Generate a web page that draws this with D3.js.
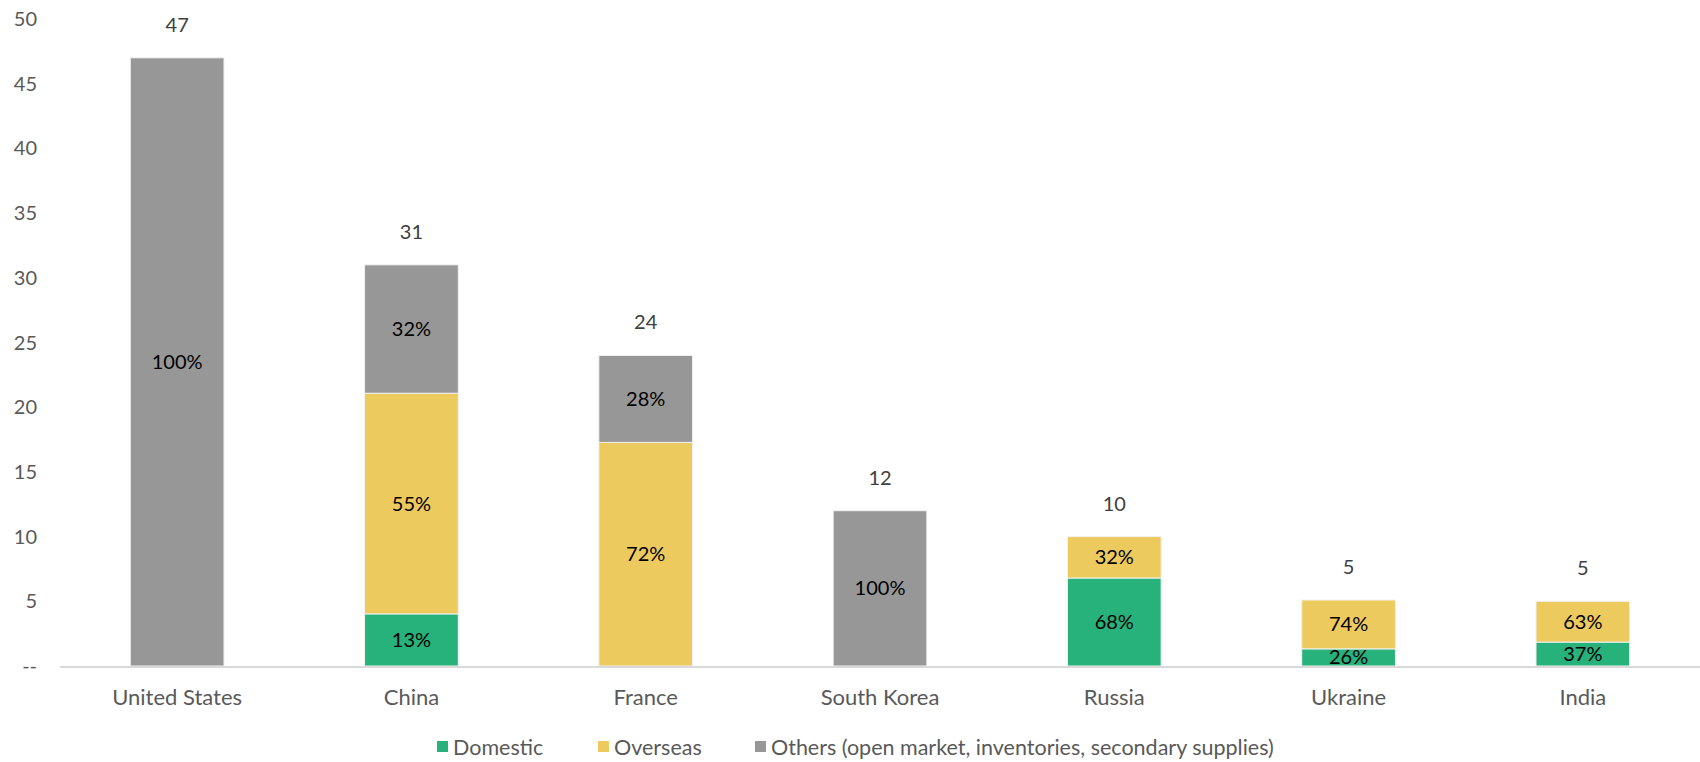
<!DOCTYPE html>
<html>
<head>
<meta charset="utf-8">
<script src="https://cdn.jsdelivr.net/npm/d3@7"></script>
<style>
  body { margin: 0; background: #fff; }
  svg { font-family: Lato, "Open Sans", sans-serif; }
</style>
</head>
<body>
<svg id="chart" width="1700" height="762"></svg>
<script>
// countries and totals
var countries = ["United States", "China", "France", "South Korea", "Russia", "Ukraine", "India"];
var totals = [47, 31, 24, 12, 10, 5.1, 5];
// share of each total, in percent
var domestic = [0, 13, 0, 0, 68, 26, 37];
var overseas = [0, 55, 72, 0, 32, 74, 63];
var others = [100, 32, 28, 100, 0, 0, 0];
var seriesNames = ["Domestic", "Overseas", "Others (open market, inventories, secondary supplies)"];
var yTicks = [0, 5, 10, 15, 20, 25, 30, 35, 40, 45, 50];

var colors = ["#27b17b", "#edca5e", "#979798"];

var svg = d3.select("#chart");

// set the dimensions and margins of the graph
var margin = {top: 19, right: 0, bottom: 96, left: 60},
    width = 1700 - margin.left - margin.right,
    height = 762 - margin.top - margin.bottom;

var rows = countries.map(function (c, i) {
  return {country: c, total: totals[i],
          s0: totals[i] * domestic[i] / 100,
          s1: totals[i] * overseas[i] / 100,
          s2: totals[i] * others[i] / 100,
          p: [domestic[i], overseas[i], others[i]]};
});

var x = d3.scaleBand()
  .domain(countries)
  .range([margin.left, margin.left + width])
  .paddingInner(0.6)
  .paddingOuter(0.3);

var y = d3.scaleLinear()
  .domain([0, 50])
  .range([margin.top + height, margin.top]);

var stack = d3.stack().keys(["s0", "s1", "s2"]);
var layers = stack(rows);

// y labels (no axis line)
svg.append("g")
  .selectAll("text")
  .data(yTicks)
  .enter()
  .append("text")
    .attr("x", 37)
    .attr("y", function (d) { return y(d); })
    .attr("dy", "0.35em")
    .attr("text-anchor", "end")
    .style("font-size", "20px")
    .style("fill", "#595959")
    .text(function (d) { return d === 0 ? "--" : d; });

// bars
layers.forEach(function (layer, k) {
  svg.append("g")
    .selectAll("rect")
    .data(layer.filter(function (d) { return d[1] - d[0] > 0; }))
    .enter()
    .append("rect")
      .attr("x", function (d) { return x(d.data.country); })
      .attr("y", function (d) { return y(d[1]); })
      .attr("width", x.bandwidth())
      .attr("height", function (d) { return y(d[0]) - y(d[1]); })
      .style("fill", colors[k])
      .style("stroke", "#f2f2f2")
      .style("stroke-width", 1);

  // percent labels in the middle of each segment
  svg.append("g")
    .selectAll("text")
    .data(layer.filter(function (d) { return d[1] - d[0] > 0; }))
    .enter()
    .append("text")
      .attr("x", function (d) { return x(d.data.country) + x.bandwidth() / 2; })
      .attr("y", function (d) { return (y(d[0]) + y(d[1])) / 2; })
      .attr("dy", "0.35em")
      .attr("text-anchor", "middle")
      .style("font-size", "20px")
      .style("fill", "#000")
      .text(function (d) { return d.data.p[k] + "%"; });
});

// x axis line
svg.append("line")
  .attr("x1", margin.left)
  .attr("x2", margin.left + width)
  .attr("y1", y(0) + 1)
  .attr("y2", y(0) + 1)
  .style("stroke", "#d9d9d9")
  .style("stroke-width", 2);

// total labels on top
svg.append("g")
  .selectAll("text")
  .data(rows)
  .enter()
  .append("text")
    .attr("x", function (d) { return x(d.country) + x.bandwidth() / 2; })
    .attr("y", function (d) { return y(d.total) - 33; })
    .attr("dy", "0.35em")
    .attr("text-anchor", "middle")
    .style("font-size", "20px")
    .style("fill", "#404040")
    .text(function (d) { return Math.round(d.total); });

// category labels
svg.append("g")
  .selectAll("text")
  .data(countries)
  .enter()
  .append("text")
    .attr("x", function (d) { return x(d) + x.bandwidth() / 2; })
    .attr("y", y(0) + 31)
    .attr("dy", "0.35em")
    .attr("text-anchor", "middle")
    .style("font-size", "22px")
    .style("fill", "#595959")
    .text(function (d) { return d; });

// legend
var legendX = [437, 598, 755];
var legend = svg.append("g");
seriesNames.forEach(function (name, k) {
  legend.append("rect")
    .attr("x", legendX[k])
    .attr("y", 741)
    .attr("width", 11)
    .attr("height", 11)
    .style("fill", colors[k]);
  legend.append("text")
    .attr("x", legendX[k] + 16)
    .attr("y", 747)
    .attr("dy", "0.35em")
    .style("font-size", "21.5px")
    .style("fill", "#595959")
    .text(name);
});
</script>
</body>
</html>
